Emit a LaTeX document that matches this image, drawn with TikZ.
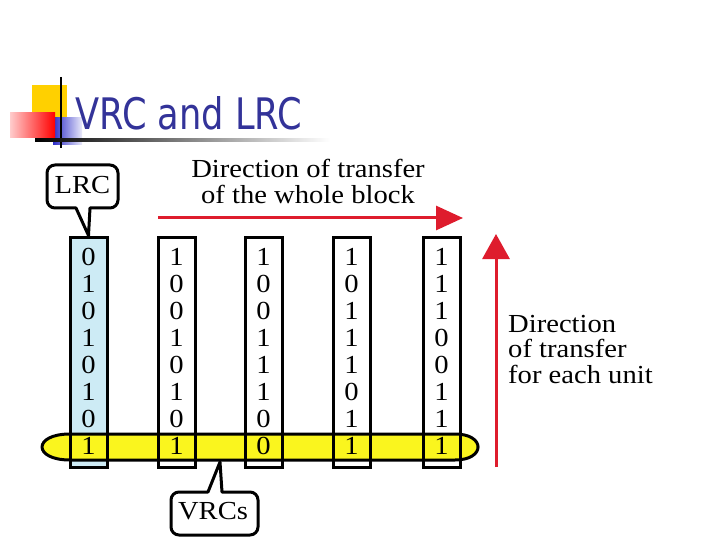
\documentclass[tikz,border=0pt]{standalone}
\usepackage{fontspec}
\setmainfont{Liberation Serif}
\newfontfamily\titlefont{DejaVu Sans}
\usepackage{graphicx}
\usetikzlibrary{arrows.meta}
\definecolor{titleblue}{RGB}{51,51,153}
\definecolor{arrowred}{RGB}{222,28,45}
\definecolor{bandyellow}{RGB}{250,245,30}
\definecolor{lrcblue}{RGB}{205,235,245}
\definecolor{logoyellow}{RGB}{255,208,0}
\definecolor{logoblue}{RGB}{45,45,200}
\newcommand\sx[1]{\scalebox{1.1}[1]{#1}}
\begin{document}
\begin{tikzpicture}[x=1pt,y=-1pt,
  bitnode/.style={anchor=base,inner sep=0pt,font=\fontsize{26}{26}\selectfont},
  colbox/.style={draw,line width=3pt,minimum width=37pt,minimum height=230pt,inner sep=0pt},
  shapeline/.style={draw,line width=3pt,line join=round},
  redarrow/.style={draw=arrowred,line width=3pt},
  txt/.style={inner sep=0pt,font=\fontsize{26}{25}\selectfont}]
\useasboundingbox (0,0) rectangle (720,540);
\fill[white] (0,0) rectangle (720,540);
% logo
\fill[logoyellow] (32,85) rectangle (67,120);
\shade[left color=logoblue,right color=logoblue!10] (53,118) rectangle (82,145);
\shade[left color=red!20,right color=red] (10,113) rectangle (55,138);
\draw[line width=2pt] (61,77) -- (61,148);
\shade[left color=black,right color=white] (35,139) rectangle (330,141.5);
\node[anchor=south west,inner sep=0pt,text=titleblue] (title) at (75,130) {\resizebox{227pt}{33pt}{\titlefont VRC and LRC}};
% LRC column fill
\fill[lrcblue] (70,237) rectangle (107,467);
% VRC band
\draw[shapeline,fill=bandyellow] (70,434) -- (455,434) .. controls (485.7,434) and (485.7,460) .. (455,460) -- (70,460) .. controls (32.7,460) and (32.7,434) .. (70,434) -- cycle;
% columns and bits
\foreach \cx/\bits [count=\c] in {88.5/{0,1,0,1,0,1,0,1},176.5/{1,0,0,1,0,1,0,1},263.5/{1,0,0,1,1,1,0,0},351.5/{1,0,1,1,1,0,1,1},441.5/{1,1,1,0,0,1,1,1}} {
  \node[colbox] (c\c) at (\cx,352) {};
  \foreach \b [count=\r from 0] in \bits {
    \node[bitnode] (d\c-\r) at (\cx,265+27*\r) {\sx{\b}};
  }
}
% LRC callout
\draw[shapeline,fill=white] (76,208) [rounded corners=8pt] -- (47,208) -- (47,165) -- (118,165) -- (118,208) -- (100,208) [sharp corners] -- (90,208) -- (c1.north) -- cycle;
\node[txt] (lrc) at (82.5,185) {\sx{LRC}};
% VRCs callout
\coordinate (vtip) at (220,462);
\draw[shapeline,fill=white] (208,492) [rounded corners=8pt] -- (171,492) -- (171,535) -- (258,535) -- (258,492) -- (240,492) [sharp corners] -- (222,492) -- (vtip) -- cycle;
\node[txt] (vrcs) at (213,511) {\sx{VRCs}};
% arrows
\coordinate (hs) at (158,218);
\coordinate (he) at (463,218);
\draw[redarrow,-{Triangle[length=27pt,width=24pt]}] (hs) -- (he);
\coordinate (vs) at (496,467);
\coordinate (ve) at (496,234);
\draw[redarrow,-{Triangle[length=25pt,width=27pt]}] (vs) -- (ve);
% texts
\node[txt,anchor=base] (toptext) at (308,178) {\sx{\begin{tabular}[t]{@{}c@{}}Direction of transfer\\of the whole block\end{tabular}}};
\node[txt,font=\fontsize{26}{25.5}\selectfont,anchor=base west] (righttext) at (508,332) {\sx{\begin{tabular}[t]{@{}l@{}}Direction\\of transfer\\for each unit\end{tabular}}};
\end{tikzpicture}
\end{document}
